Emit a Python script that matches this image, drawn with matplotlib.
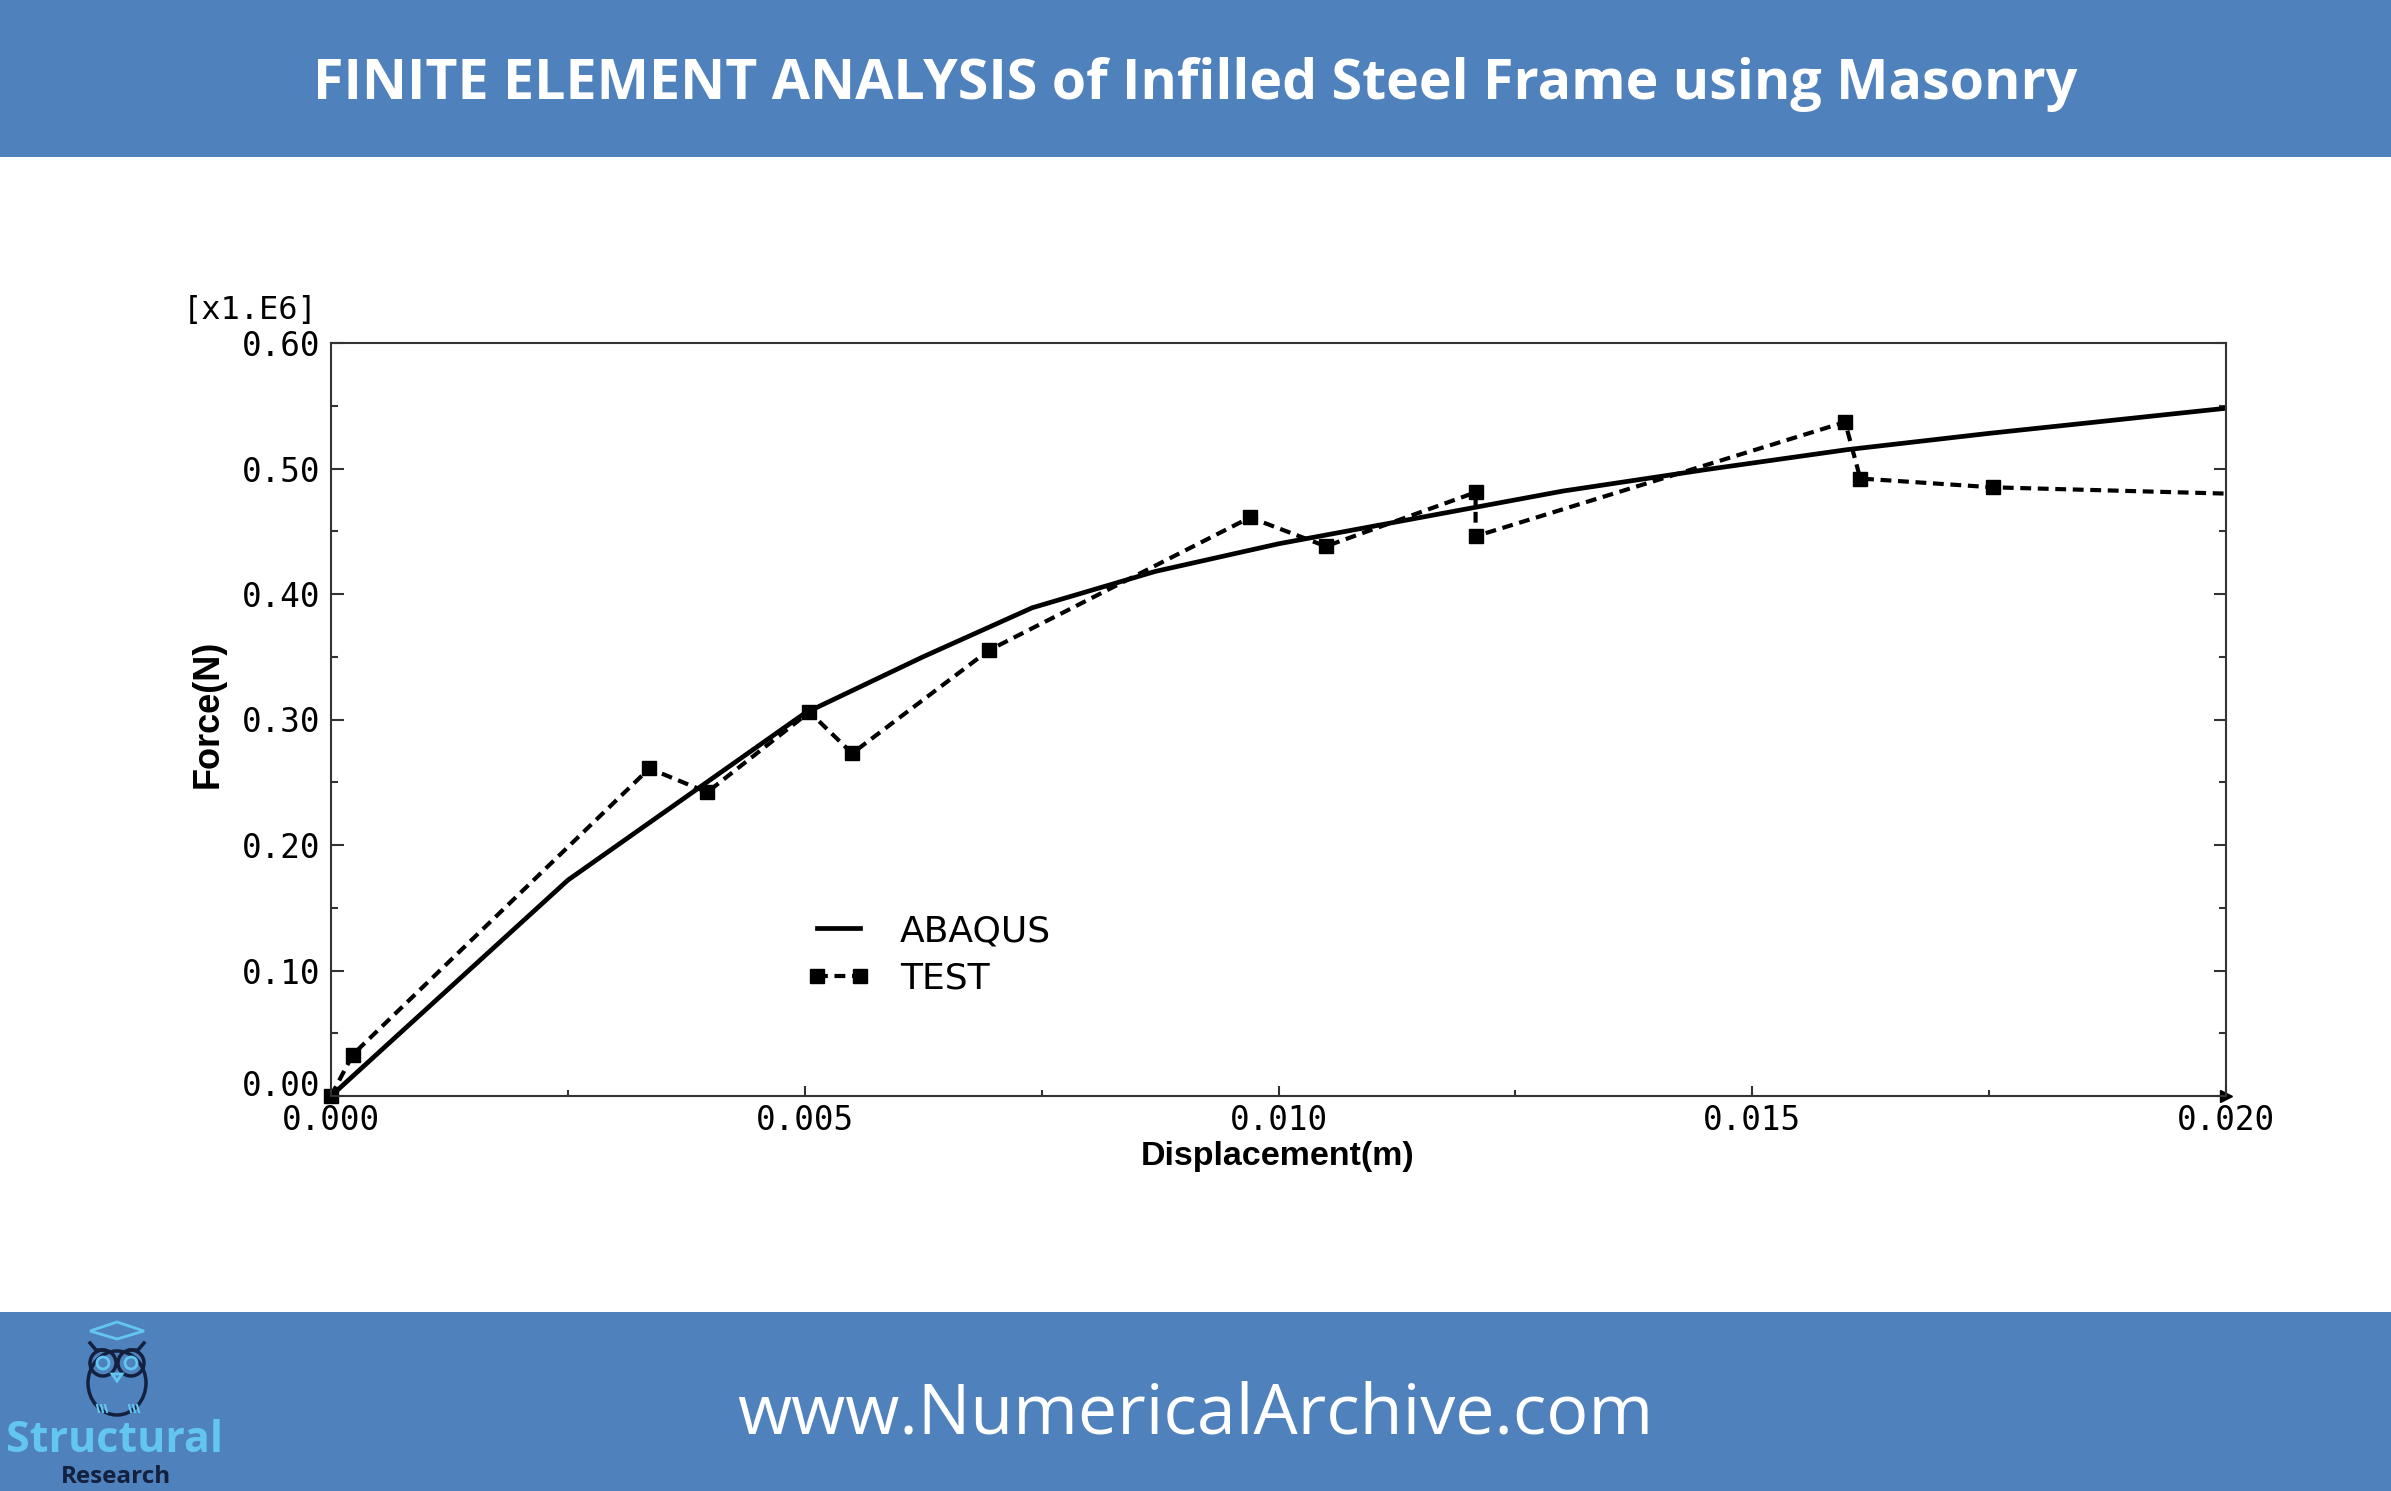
import numpy as np
import matplotlib.pyplot as plt
from matplotlib.patches import Rectangle, Circle, Ellipse, Polygon
from matplotlib.ticker import MultipleLocator, FormatStrFormatter

# ABAQUS curve: displacement (m) vs force (x1.E6 N)
abaqus_disp = [0.0, 0.0025, 0.0050, 0.00625, 0.0074, 0.0087, 0.0100, 0.0115,
               0.0130, 0.0145, 0.0160, 0.0175, 0.0190, 0.0200]
abaqus_force = [0.0, 0.172, 0.305, 0.350, 0.389, 0.418, 0.440, 0.461,
                0.482, 0.499, 0.515, 0.528, 0.540, 0.548]

# test points
test_disp = [0.0, 0.00023, 0.00336, 0.00397, 0.00505, 0.0055, 0.00694, 0.0097,
             0.0105, 0.01208, 0.01208, 0.01598, 0.01614, 0.01754, 0.0200]
test_force = [0.0, 0.033, 0.261, 0.242, 0.306, 0.273, 0.355, 0.461,
              0.438, 0.481, 0.446, 0.537, 0.492, 0.485, 0.480]

x_ticks = [0.0, 0.005, 0.010, 0.015, 0.020]
y_ticks = [0.0, 0.1, 0.2, 0.3, 0.4, 0.5, 0.6]

W, H = 2391, 1491
blue = '#4F81BD'
light = '#62C6F0'
navy = '#13213F'

fig = plt.figure(figsize=(W / 100, H / 100), dpi=100)

# background layer for banners and logo (pixel coords)
ov = fig.add_axes([0, 0, 1, 1], zorder=0)
ov.set_xlim(0, W)
ov.set_ylim(H, 0)
ov.axis('off')
ov.add_patch(Rectangle((0, 0), W, 157, color=blue, lw=0))
ov.add_patch(Rectangle((0, 1312), W, H - 1312, color=blue, lw=0))

# owl logo
ov.add_patch(Polygon([(90, 1331), (117, 1322), (144, 1331), (117, 1339)], closed=True,
                     fill=False, ec=light, lw=2))
ov.add_patch(Ellipse((117, 1383), 58, 64, fill=False, ec=navy, lw=2.5))
ov.plot([90, 96, 104], [1343, 1350, 1350], color=navy, lw=2.5)
ov.plot([144, 138, 130], [1343, 1350, 1350], color=navy, lw=2.5)
for ex in (103, 131):
    ov.add_patch(Circle((ex, 1363), 13, fill=False, ec=navy, lw=2.5))
    ov.add_patch(Circle((ex, 1363), 6, fill=False, ec=light, lw=2))
ov.add_patch(Polygon([(112, 1374), (122, 1374), (117, 1381)], closed=True,
                     fill=False, ec=light, lw=2))
for fx in (97, 101, 105, 129, 133, 137):
    ov.plot([fx, fx + 2], [1405, 1412], color=light, lw=1.5)

fig.text(114 / W, 1 - 1440 / H, 'Structural', color=light, fontsize=31,
         fontweight='bold', family='Open Sans', ha='center', va='center')
fig.text(116 / W, 1 - 1477 / H, 'Research', color=navy, fontsize=17.5,
         fontweight='bold', family='Open Sans', ha='center', va='center')

fig.text(0.5, 1 - 85 / H, 'FINITE ELEMENT ANALYSIS of Infilled Steel Frame using Masonry',
         color='white', fontsize=40, fontweight='bold', family='Open Sans',
         ha='center', va='center')
fig.text(0.5, 1 - 1415 / H, 'www.NumericalArchive.com', color='white', fontsize=50.3,
         family='Open Sans', ha='center', va='center')

# chart
ax = fig.add_axes([331 / W, 1 - 1096 / H, (2226 - 331) / W, (1096 - 343) / H], zorder=1)
ax.plot(abaqus_disp, abaqus_force, color='black', lw=3.4, label='ABAQUS')
ax.plot(test_disp, test_force, color='black', lw=3.0, dashes=(2.6, 1.6),
        marker='s', markersize=9.5, markevery=list(range(len(test_disp) - 1)),
        clip_on=False, label='TEST')

ax.set_xlim(0, 0.020)
ax.set_ylim(0, 0.60)
ax.set_xticks(x_ticks)
ax.set_yticks(y_ticks)
ax.xaxis.set_minor_locator(MultipleLocator(0.0025))
ax.yaxis.set_minor_locator(MultipleLocator(0.05))
ax.xaxis.set_major_formatter(FormatStrFormatter('%.3f'))
ax.yaxis.set_major_formatter(FormatStrFormatter('%.2f'))
ax.tick_params(axis='both', which='both', direction='in', colors='#333333',
               labelcolor='black', labelsize=23.5, width=1.5)
ax.tick_params(axis='y', which='both', right=True)
ax.tick_params(axis='y', which='major', length=9, pad=8)
ax.tick_params(axis='y', which='minor', length=5)
ax.tick_params(axis='x', which='major', length=7, pad=6)
ax.tick_params(axis='x', which='minor', length=4)
for lab in ax.get_xticklabels() + ax.get_yticklabels():
    lab.set_family('DejaVu Sans Mono')
# bottom y label sits above the axis line, as in the original plot
ax.get_yticklabels()[0].set_verticalalignment('baseline')
for sp in ax.spines.values():
    sp.set_color('#333333')
    sp.set_linewidth(1.5)
ax.plot(1, 0, '>', color='black', markersize=8, transform=ax.transAxes, clip_on=False)

fig.text(317 / W, 1 - 310 / H, '[x1.E6]', family='DejaVu Sans Mono', fontsize=23,
         ha='right', va='center')
fig.text(208 / W, 1 - 714 / H, 'Force(N)', family='Liberation Sans', fontweight='bold',
         fontsize=26, rotation=90, ha='center', va='center')
fig.text(1278 / W, 1 - 1156 / H, 'Displacement(m)', family='Liberation Sans',
         fontweight='bold', fontsize=24.5, ha='center', va='center')

ax.legend(loc='upper left', bbox_to_anchor=(806 / W, 1 - 914 / H),
          bbox_transform=fig.transFigure, frameon=False,
          prop={'family': 'DejaVu Sans', 'size': 26}, numpoints=2,
          handlelength=1.8, handletextpad=0.8, labelspacing=0.38,
          borderpad=0, borderaxespad=0)

fig.savefig('out.png', dpi=100)
